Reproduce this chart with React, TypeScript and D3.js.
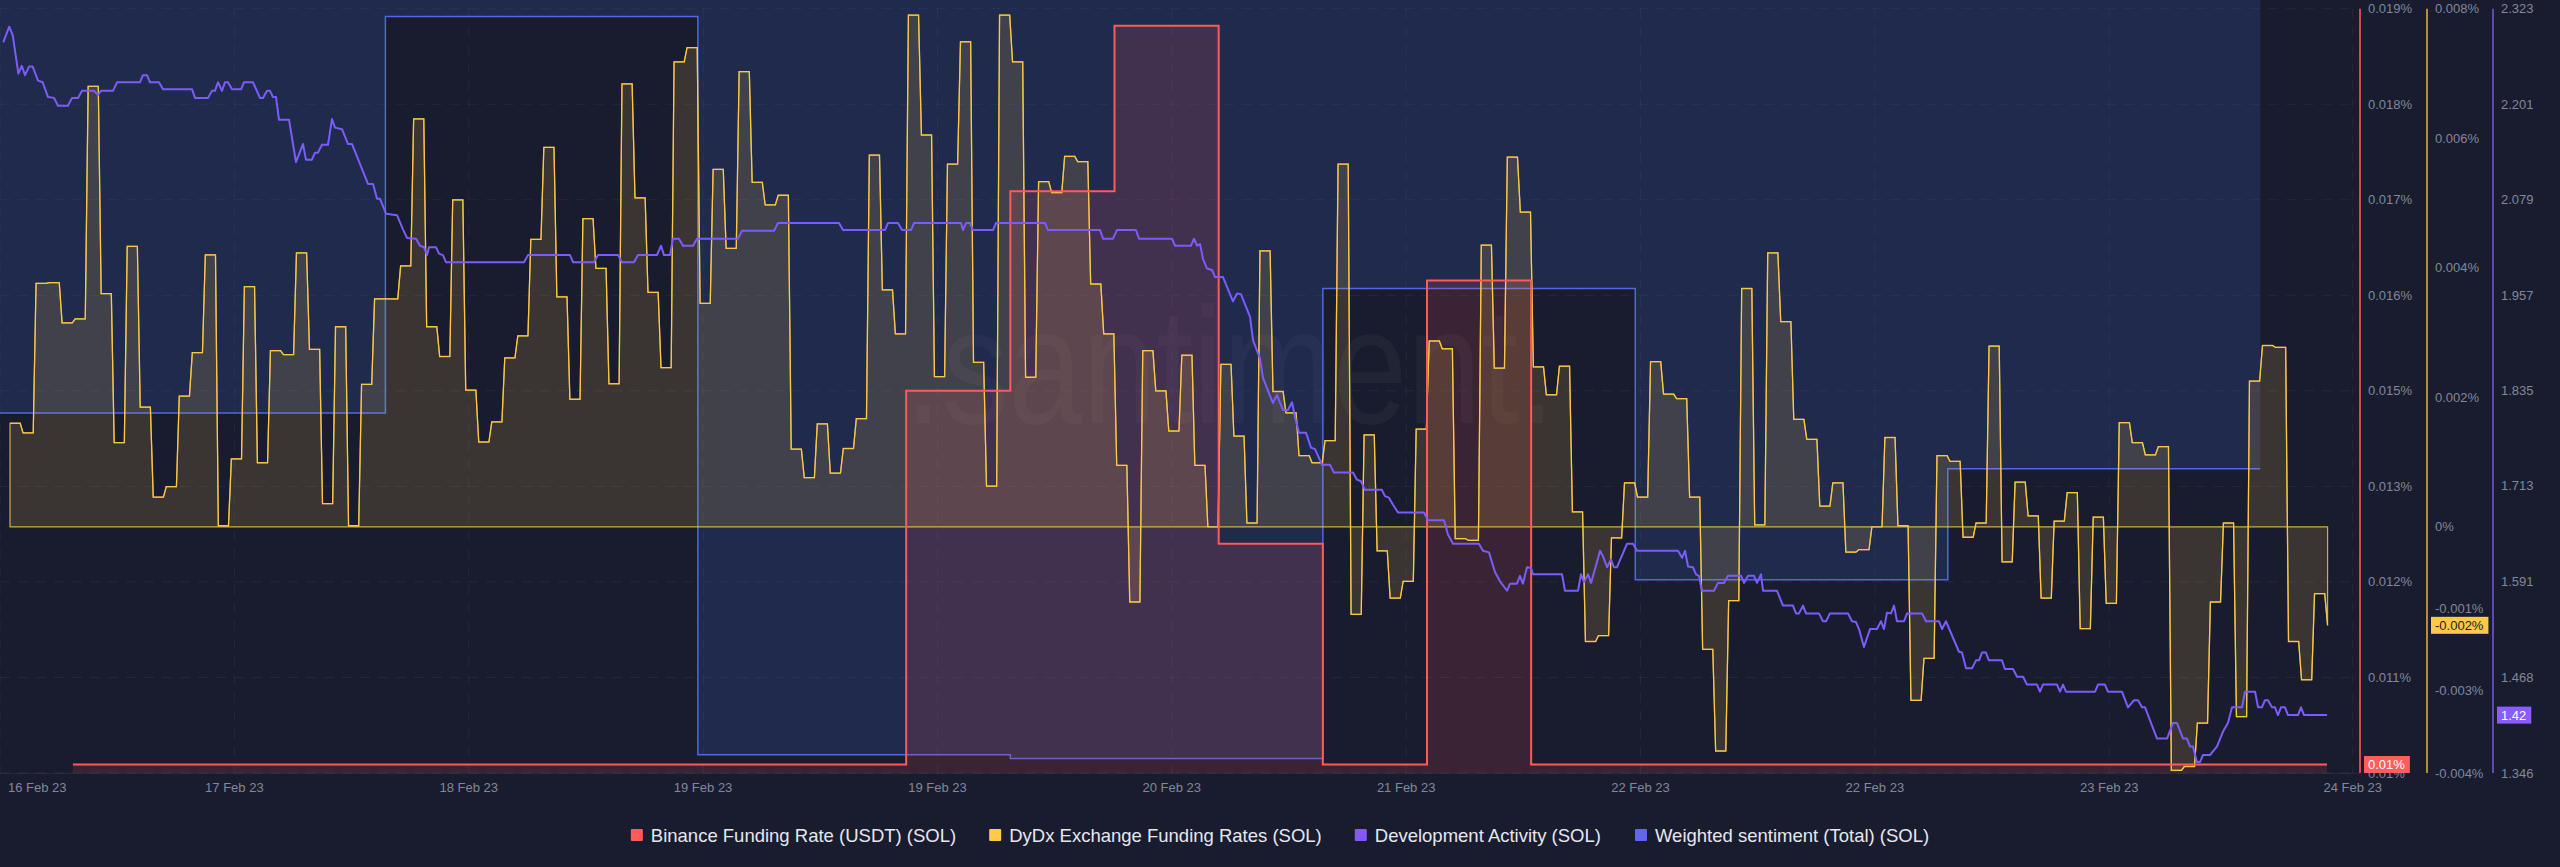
import React, { useEffect, useMemo } from "react";
import * as d3 from "d3";

// ---------------- layout constants ----------------
const WIDTH = 2560;
const HEIGHT = 867;
const PLOT_L = 0;
const PLOT_R = 2360;
const PLOT_T = 8.7;
const PLOT_B = 773;
const BG = "#181c2e";
const FONT = "'Liberation Sans', Arial, sans-serif";

// ---------------- x axis (hours since first tick) ----------------
const xDomainHours = [0, 181.26];
const xTickHours = [0, 18, 36, 54, 72, 90, 108, 126, 144, 162, 180.7];
const xTickLabels = [
  "16 Feb 23", "17 Feb 23", "18 Feb 23", "19 Feb 23", "19 Feb 23", "20 Feb 23",
  "21 Feb 23", "22 Feb 23", "22 Feb 23", "23 Feb 23", "24 Feb 23",
];

// ---------------- right axes ----------------
const binanceDomain = [0.01, 0.019];
const binanceTickValues = [0.01, 0.011125, 0.01225, 0.013375, 0.0145, 0.015625, 0.01675, 0.017875, 0.019];
const binanceTickLabels = ["0.01%", "0.011%", "0.012%", "0.013%", "0.015%", "0.016%", "0.017%", "0.018%", "0.019%"];

const dydxDomain = [-0.0038, 0.008];
const dydxTickValues = [-0.0038, -0.002533, -0.001267, 0, 0.002, 0.004, 0.006, 0.008];
const dydxTickLabels = ["-0.004%", "-0.003%", "-0.001%", "0%", "0.002%", "0.004%", "0.006%", "0.008%"];

const devDomain = [1.346, 2.323];
const devTickValues = [1.346, 1.468, 1.591, 1.713, 1.835, 1.957, 2.079, 2.201, 2.323];
const devTickLabels = ["1.346", "1.468", "1.591", "1.713", "1.835", "1.957", "2.079", "2.201", "2.323"];

const sentimentDomain = [-1.6, 0];

// ---------------- series ----------------
// Binance Funding Rate (USDT) (SOL), in %, every 8 hours
const binanceHours = [
  5.6, 13.6, 21.6, 29.6, 37.6, 45.6, 53.6, 61.6, 69.6, 77.6, 85.6,
  93.6, 101.6, 109.6, 117.6, 125.6, 133.6, 141.6, 149.6, 157.6, 165.6, 173.6,
];
const binanceRates = [
  0.0101, 0.0101, 0.0101, 0.0101, 0.0101, 0.0101, 0.0101, 0.0101, 0.0145, 0.01685, 0.0188,
  0.0127, 0.0101, 0.0158, 0.0101, 0.0101, 0.0101, 0.0101, 0.0101, 0.0101, 0.0101, 0.0101,
];
const binanceLastHour = 178.73;

// DyDx Exchange Funding Rates (SOL), in %, hourly from dydxFirstHour
const dydxFirstHour = 0.77;
const dydxRates = [
  0.0016, 0.00145, 0.00376, 0.00377, 0.00315, 0.00321, 0.0068, 0.0036, 0.0013, 0.00433,
  0.00185, 0.00046, 0.00062, 0.00202, 0.00269, 0.0042, 0.00002, 0.00105, 0.00371, 0.00099,
  0.00272, 0.00266, 0.00423, 0.00274, 0.00036, 0.00309, 0.00002, 0.0022, 0.00352, 0.00352,
  0.00403, 0.0063, 0.00309, 0.00263, 0.00505, 0.00211, 0.00131, 0.00162, 0.00261, 0.00295,
  0.00444, 0.00586, 0.00355, 0.00197, 0.00476, 0.00399, 0.00221, 0.00684, 0.00508, 0.00362,
  0.00246, 0.00718, 0.0074, 0.00345, 0.00552, 0.0043, 0.00703, 0.00532, 0.00497, 0.00512,
  0.0012, 0.00076, 0.00159, 0.00083, 0.00121, 0.00167, 0.00574, 0.00366, 0.00298, 0.0079,
  0.00605, 0.00232, 0.0056, 0.00749, 0.00254, 0.00063, 0.0079, 0.00718, 0.00231, 0.00533,
  0.00516, 0.00572, 0.00564, 0.00375, 0.00298, 0.00095, -0.00116, 0.00272, 0.0021, 0.00148,
  0.00265, 0.00095, 0.0, 0.00251, 0.0014, 0.00006, 0.00426, 0.00209, 0.00176, 0.0011,
  0.00099, 0.00133, 0.0056, -0.00135, 0.00142, -0.00037, -0.0011, -0.00084, 0.00151, 0.00287,
  0.00275, -0.00018, -0.00021, 0.00435, 0.00245, 0.00571, 0.00486, 0.00247, 0.00204, 0.00248,
  0.00023, -0.00177, -0.00168, -0.00017, 0.00068, 0.00046, 0.00255, 0.00205, 0.00198, 0.00046,
  -0.00189, -0.00346, -0.00114, 0.00368, 0.00003, 0.00423, 0.00317, 0.00166, 0.00135, 0.00032,
  0.00068, -0.00039, -0.00035, 0.0, 0.00138, 0.00002, -0.00268, -0.00203, 0.0011, 0.00101,
  -0.00016, 0.00006, 0.00279, -0.00054, 0.00069, 0.00017, -0.0011, 0.00009, 0.00053, -0.00157,
  0.00015, -0.00118, 0.00161, 0.0013, 0.00111, 0.00124, -0.00376, -0.0037, -0.00303, -0.00116,
  0.00006, -0.00293, 0.00225, 0.0028, 0.00277, -0.00177, -0.00236, -0.00103, -0.00152,
];
const dydxHold = 0.78;

// Development Activity (SOL): [hour, value]
const devActivity: [number, number][] = [
  [0.25, 2.28], [0.71, 2.3], [0.98, 2.289], [1.41, 2.24], [1.67, 2.25], [1.92, 2.238], [2.23, 2.249],
  [2.51, 2.249], [2.92, 2.231], [3.28, 2.229], [3.69, 2.21], [4.15, 2.209], [4.45, 2.199], [5.22, 2.199],
  [5.53, 2.209], [5.99, 2.209], [6.3, 2.218], [7.22, 2.218], [7.53, 2.213], [7.76, 2.218], [8.68, 2.218],
  [8.99, 2.229], [10.75, 2.229], [10.98, 2.238], [11.29, 2.238], [11.52, 2.229], [12.21, 2.229],
  [12.52, 2.22], [14.75, 2.22], [14.98, 2.209], [15.98, 2.209], [16.28, 2.218], [16.51, 2.218],
  [16.74, 2.229], [17.05, 2.218], [17.28, 2.229], [17.51, 2.229], [17.82, 2.22], [18.51, 2.22],
  [18.74, 2.229], [19.43, 2.229], [19.97, 2.209], [20.2, 2.209], [20.51, 2.218], [20.74, 2.218],
  [20.97, 2.21], [21.2, 2.21], [21.43, 2.181], [22.2, 2.181], [22.73, 2.127], [23.27, 2.15],
  [23.5, 2.13], [23.96, 2.13], [24.19, 2.139], [24.42, 2.139], [24.73, 2.149], [25.19, 2.149],
  [25.5, 2.182], [25.73, 2.171], [26.27, 2.169], [26.73, 2.15], [27.04, 2.15], [28.26, 2.099],
  [28.65, 2.099], [28.96, 2.08], [29.19, 2.08], [29.65, 2.061], [30.49, 2.059], [30.95, 2.041],
  [31.26, 2.03], [31.95, 2.029], [32.26, 2.02], [32.57, 2.018], [32.8, 2.008], [32.95, 2.018],
  [33.49, 2.018], [33.72, 2.01], [34.02, 2.008], [34.25, 1.999], [40.25, 1.999], [40.55, 2.008],
  [43.78, 2.008], [44.01, 1.999], [45.62, 1.999], [45.93, 2.008], [47.47, 2.008], [47.77, 1.999],
  [48.69, 1.999], [49.0, 2.008], [50.46, 2.008], [50.77, 2.02], [51.0, 2.008], [51.46, 2.008],
  [51.69, 2.029], [52.15, 2.029], [52.46, 2.02], [53.23, 2.02], [53.53, 2.029], [56.68, 2.029],
  [56.99, 2.039], [59.45, 2.039], [59.75, 2.049], [64.44, 2.049], [64.75, 2.04], [67.97, 2.04],
  [68.2, 2.049], [68.97, 2.049], [69.28, 2.04], [69.97, 2.04], [70.2, 2.049], [73.81, 2.049],
  [73.96, 2.04], [74.19, 2.049], [74.5, 2.049], [74.73, 2.04], [76.27, 2.04], [76.5, 2.049],
  [80.26, 2.049], [80.49, 2.04], [84.49, 2.04], [84.72, 2.029], [85.48, 2.029], [85.79, 2.04],
  [87.25, 2.04], [87.48, 2.029], [90.02, 2.029], [90.25, 2.02], [91.47, 2.02], [91.71, 2.029],
  [91.94, 2.02], [92.17, 2.022], [92.4, 2.003], [92.7, 1.991], [93.09, 1.989], [93.32, 1.98],
  [93.93, 1.98], [94.7, 1.949], [95.01, 1.959], [95.31, 1.958], [96.01, 1.929], [96.24, 1.899],
  [96.77, 1.876], [97.0, 1.851], [97.62, 1.825], [97.77, 1.819], [98.08, 1.829], [98.54, 1.81],
  [98.92, 1.81], [99.23, 1.82], [99.46, 1.801], [99.77, 1.781], [100.31, 1.781], [100.69, 1.762],
  [101.0, 1.76], [101.54, 1.74], [102.15, 1.74], [102.46, 1.73], [103.92, 1.73], [104.22, 1.721],
  [104.53, 1.719], [104.84, 1.708], [106.14, 1.708], [106.37, 1.7], [106.68, 1.698], [106.99, 1.689],
  [107.37, 1.679], [109.37, 1.679], [109.68, 1.669], [110.91, 1.669], [111.21, 1.651], [111.6, 1.639],
  [113.59, 1.639], [113.9, 1.63], [114.36, 1.628], [114.82, 1.603], [115.21, 1.591], [115.75, 1.579],
  [115.98, 1.588], [116.51, 1.588], [116.74, 1.598], [116.97, 1.588], [117.28, 1.609], [117.59, 1.608],
  [117.74, 1.6], [119.97, 1.6], [120.2, 1.579], [121.2, 1.579], [121.43, 1.6], [121.66, 1.59],
  [121.97, 1.6], [122.2, 1.589], [122.66, 1.616], [122.89, 1.63], [123.12, 1.623], [123.43, 1.609],
  [123.73, 1.619], [123.96, 1.609], [124.19, 1.609], [124.96, 1.639], [125.42, 1.639], [125.73, 1.63],
  [128.88, 1.63], [129.19, 1.621], [129.42, 1.63], [129.65, 1.61], [130.03, 1.609], [130.26, 1.6],
  [130.49, 1.598], [130.72, 1.579], [131.64, 1.579], [131.95, 1.589], [132.41, 1.589], [132.72, 1.598],
  [133.72, 1.598], [133.95, 1.589], [134.25, 1.598], [134.72, 1.598], [134.95, 1.589], [135.25, 1.6],
  [135.41, 1.579], [136.48, 1.579], [136.94, 1.56], [137.71, 1.56], [137.94, 1.55], [138.17, 1.55],
  [138.48, 1.56], [138.71, 1.55], [139.71, 1.55], [140.01, 1.54], [140.25, 1.54], [140.55, 1.55],
  [141.94, 1.55], [142.24, 1.54], [142.55, 1.539], [142.78, 1.53], [143.16, 1.507], [143.63, 1.53],
  [144.16, 1.53], [144.47, 1.54], [144.7, 1.53], [144.93, 1.551], [145.24, 1.55], [145.47, 1.56],
  [145.7, 1.54], [146.24, 1.54], [146.47, 1.55], [147.62, 1.55], [147.93, 1.54], [148.92, 1.54],
  [149.16, 1.53], [149.46, 1.54], [150.46, 1.501], [150.69, 1.5], [151.0, 1.48], [151.46, 1.48],
  [151.77, 1.49], [152.0, 1.49], [152.23, 1.5], [152.53, 1.5], [152.76, 1.49], [153.76, 1.49],
  [153.99, 1.479], [154.61, 1.479], [154.92, 1.469], [155.38, 1.469], [155.68, 1.459], [156.45, 1.459],
  [156.68, 1.45], [156.91, 1.459], [157.99, 1.459], [158.22, 1.45], [158.45, 1.459], [158.68, 1.45],
  [160.91, 1.45], [161.14, 1.459], [161.67, 1.459], [161.9, 1.45], [162.98, 1.45], [163.44, 1.43],
  [163.9, 1.439], [164.21, 1.439], [164.52, 1.43], [164.75, 1.43], [165.67, 1.39], [166.44, 1.39],
  [166.9, 1.41], [167.2, 1.41], [167.67, 1.39], [167.97, 1.39], [168.2, 1.38], [168.43, 1.38],
  [168.74, 1.36], [168.97, 1.36], [169.2, 1.369], [169.74, 1.369], [170.28, 1.38], [170.74, 1.399],
  [171.12, 1.41], [171.43, 1.43], [172.2, 1.43], [172.43, 1.45], [173.2, 1.45], [173.43, 1.43],
  [173.73, 1.43], [173.96, 1.439], [174.19, 1.439], [174.5, 1.43], [174.73, 1.43], [174.96, 1.42],
  [175.19, 1.43], [175.5, 1.43], [175.73, 1.42], [176.5, 1.42], [176.73, 1.43], [176.96, 1.42],
  [178.73, 1.42],
];

// Weighted sentiment (Total) (SOL): daily, value per interval [hour_i, hour_i+1)
const sentimentHours = [-18.4, 5.6, 29.6, 53.6, 77.6, 101.6, 125.6, 149.6, 173.6];
const sentimentValues = [-0.855, -0.855, -0.034, -1.562, -1.57, -0.597, -1.2, -0.97];

// ---------------- legend ----------------
const legendLabels = [
  "Binance Funding Rate (USDT) (SOL)",
  "DyDx Exchange Funding Rates (SOL)",
  "Development Activity (SOL)",
  "Weighted sentiment (Total) (SOL)",
];
const legendColors = ["#ff5b5b", "#ffcb47", "#8358ff", "#6366ec"];

// ---------------- colours ----------------
const RED = "#ff5a5a";
const YELLOW = "#ffcb47";
const PURPLE = "#7b5cfa";
const BLUE = "#4d68e0";
const AXIS_TEXT = "#82879b";

function measure(text: string, font: string): number {
  const ctx = document.createElement("canvas").getContext("2d");
  if (!ctx) return text.length * 8;
  ctx.font = font;
  return ctx.measureText(text).width;
}

const fmtPct = (v: number) => `${+v.toFixed(3)}%`;

export default function App() {
  useEffect(() => {
    document.body.style.margin = "0";
    document.body.style.background = BG;
  }, []);

  const x = d3.scaleLinear().domain(xDomainHours).range([PLOT_L, PLOT_R]);
  const yRed = d3.scaleLinear().domain(binanceDomain).range([PLOT_B, PLOT_T]);
  const yDydx = d3.scaleLinear().domain(dydxDomain).range([PLOT_B, PLOT_T]);
  const yDev = d3.scaleLinear().domain(devDomain).range([PLOT_B, PLOT_T]);
  const ySent = d3.scaleLinear().domain(sentimentDomain).range([PLOT_B, 0]);

  const paths = useMemo(() => {
    // sentiment
    const sentPts: [number, number][] = sentimentValues.map((v, i) => [sentimentHours[i], v]);
    sentPts.push([sentimentHours[sentimentHours.length - 1], sentimentValues[sentimentValues.length - 1]]);
    const sentLine = d3.line<[number, number]>().x((d) => x(d[0])).y((d) => ySent(d[1])).curve(d3.curveStepAfter)(sentPts) || "";
    const sentArea = d3.area<[number, number]>().x((d) => x(d[0])).y0(ySent(0)).y1((d) => ySent(d[1])).curve(d3.curveStepAfter)(sentPts) || "";

    // binance
    const binPts: [number, number][] = binanceRates.map((v, i) => [binanceHours[i], v]);
    binPts.push([binanceLastHour, binanceRates[binanceRates.length - 1]]);
    const binLine = d3.line<[number, number]>().x((d) => x(d[0])).y((d) => yRed(d[1])).curve(d3.curveStepAfter)(binPts) || "";
    const binArea = d3.area<[number, number]>().x((d) => x(d[0])).y0(PLOT_B).y1((d) => yRed(d[1])).curve(d3.curveStepAfter)(binPts) || "";

    // dydx: each hourly value is held, then ramps to the next one
    const dyPts: [number, number][] = [];
    dydxRates.forEach((v, i) => {
      const h = dydxFirstHour + i;
      dyPts.push([h, v]);
      if (i < dydxRates.length - 1) dyPts.push([h + dydxHold, v]);
    });
    const dyLine = d3.line<[number, number]>().x((d) => x(d[0])).y((d) => yDydx(d[1]))(dyPts) || "";
    const dyArea = d3.area<[number, number]>().x((d) => x(d[0])).y0(yDydx(0)).y1((d) => yDydx(d[1]))(dyPts) || "";

    const devLine = d3.line<[number, number]>().x((d) => x(d[0])).y((d) => yDev(d[1]))(devActivity) || "";

    return { sentLine, sentArea, binLine, binArea, dyLine, dyArea, devLine };
  }, []);

  const axisFont = `13px ${FONT}`;
  const legendFontSize = 18.5;
  const legendFont = `${legendFontSize}px ${FONT}`;

  // legend layout
  const legendWidths = legendLabels.map((l) => measure(l, legendFont));
  const SQ = 12, SQ_GAP = 8, ITEM_GAP = 33;
  const legendTotal = legendWidths.reduce((a, w) => a + SQ + SQ_GAP + w, 0) + ITEM_GAP * (legendLabels.length - 1);
  let lx = WIDTH / 2 - legendTotal / 2;
  const legendItems = legendLabels.map((l, i) => {
    const item = { label: l, color: legendColors[i], x: lx };
    lx += SQ + SQ_GAP + legendWidths[i] + ITEM_GAP;
    return item;
  });

  // axis positions
  const RED_AXIS_X = 2360, YEL_AXIS_X = 2427, PUR_AXIS_X = 2493;
  const LABEL_OFF = 8;

  const lastBin = binanceRates[binanceRates.length - 1];
  const lastDy = dydxRates[dydxRates.length - 1];
  const lastDev = devActivity[devActivity.length - 1][1];
  const valueBoxes = [
    { text: fmtPct(lastBin), y: yRed(lastBin), x: RED_AXIS_X + LABEL_OFF, fill: "#ff5e5e", color: "#ffffff" },
    { text: fmtPct(lastDy), y: yDydx(lastDy), x: YEL_AXIS_X + LABEL_OFF, fill: "#ffc845", color: "#1b1d2a" },
    { text: lastDev.toFixed(2), y: yDev(lastDev), x: PUR_AXIS_X + LABEL_OFF, fill: "#8a5cff", color: "#ffffff" },
  ];

  const xLabelHalf = measure(xTickLabels[0], axisFont) / 2;

  return (
    <svg
      width={WIDTH}
      height={HEIGHT}
      style={{ display: "block", position: "absolute", left: 0, top: 0, fontFamily: FONT }}
    >
      <defs>
        <clipPath id="plotClip">
          <rect x={PLOT_L} y={0} width={PLOT_R - PLOT_L} height={PLOT_B} />
        </clipPath>
      </defs>
      <rect x={0} y={0} width={WIDTH} height={HEIGHT} fill={BG} />

      {/* grid */}
      <g stroke="rgba(255,255,255,0.055)" strokeWidth={1} strokeDasharray="10 8">
        {binanceTickValues.map((v, i) => (
          <line key={`h${i}`} x1={PLOT_L} x2={RED_AXIS_X - 2} y1={yRed(v)} y2={yRed(v)} />
        ))}
        {xTickHours.map((h, i) => (
          <line key={`v${i}`} x1={x(h)} x2={x(h)} y1={PLOT_T} y2={PLOT_B} />
        ))}
      </g>

      {/* watermark */}
      <text
        x={905}
        y={423}
        fontSize={165}
        fontWeight={500}
        fill="#ffffff"
        fillOpacity={0.035}
        textLength={650}
        lengthAdjust="spacingAndGlyphs"
      >
        .santiment.
      </text>

      <g clipPath="url(#plotClip)">
        {/* weighted sentiment */}
        <path d={paths.sentArea} fill="rgb(80,110,230)" fillOpacity={0.17} />
        <path d={paths.sentLine} fill="none" stroke={BLUE} strokeWidth={1.5} />

        {/* binance area */}
        <path d={paths.binArea} fill="rgb(255,90,90)" fillOpacity={0.15} />

        {/* dydx */}
        <path d={paths.dyArea} fill={YELLOW} fillOpacity={0.15} stroke={YELLOW} strokeOpacity={0.8} strokeWidth={1.2} />
        <path d={paths.dyLine} fill="none" stroke={YELLOW} strokeOpacity={0.85} strokeWidth={1.3} />

        {/* binance line */}
        <path d={paths.binLine} fill="none" stroke={RED} strokeWidth={2} />

        {/* development activity */}
        <path d={paths.devLine} fill="none" stroke={PURPLE} strokeWidth={2} strokeLinejoin="round" />
      </g>

      {/* plot bottom */}
      <line x1={PLOT_L} x2={RED_AXIS_X} y1={PLOT_B + 0.5} y2={PLOT_B + 0.5} stroke="rgba(255,255,255,0.06)" />

      {/* x axis labels */}
      <g fontSize={13} fill={AXIS_TEXT} textAnchor="middle">
        {xTickHours.map((h, i) => (
          <text key={i} x={Math.max(x(h), xLabelHalf + 8)} y={787} dominantBaseline="central">
            {xTickLabels[i]}
          </text>
        ))}
      </g>

      {/* right axes */}
      <line x1={RED_AXIS_X} x2={RED_AXIS_X} y1={PLOT_T} y2={PLOT_B} stroke="#d04a4e" strokeWidth={2} />
      <line x1={YEL_AXIS_X} x2={YEL_AXIS_X} y1={PLOT_T} y2={PLOT_B} stroke="#e8b33c" strokeWidth={1.5} />
      <line x1={PUR_AXIS_X} x2={PUR_AXIS_X} y1={PLOT_T} y2={PLOT_B} stroke="#7457ea" strokeWidth={1.5} />

      <g fontSize={13} fill={AXIS_TEXT} dominantBaseline="central">
        {binanceTickValues.map((v, i) => (
          <text key={`r${i}`} x={RED_AXIS_X + LABEL_OFF} y={yRed(v)}>{binanceTickLabels[i]}</text>
        ))}
        {dydxTickValues.map((v, i) => (
          <text key={`y${i}`} x={YEL_AXIS_X + LABEL_OFF} y={yDydx(v)}>{dydxTickLabels[i]}</text>
        ))}
        {devTickValues.map((v, i) => (
          <text key={`p${i}`} x={PUR_AXIS_X + LABEL_OFF} y={yDev(v)}>{devTickLabels[i]}</text>
        ))}
      </g>

      {/* current value boxes */}
      {valueBoxes.map((b, i) => {
        const tw = measure(b.text, axisFont);
        return (
          <g key={i}>
            <rect x={b.x - 4} y={b.y - 8.5} width={tw + 9} height={17} fill={b.fill} />
            <text x={b.x} y={b.y} fontSize={13} fill={b.color} dominantBaseline="central">
              {b.text}
            </text>
          </g>
        );
      })}

      {/* legend */}
      <g>
        {legendItems.map((it, i) => (
          <g key={i}>
            <rect x={it.x} y={835 - SQ / 2} width={SQ} height={SQ} fill={it.color} rx={1} />
            <text
              x={it.x + SQ + SQ_GAP}
              y={835}
              fontSize={legendFontSize}
              fill="#e6e7ef"
              dominantBaseline="central"
            >
              {it.label}
            </text>
          </g>
        ))}
      </g>
    </svg>
  );
}
